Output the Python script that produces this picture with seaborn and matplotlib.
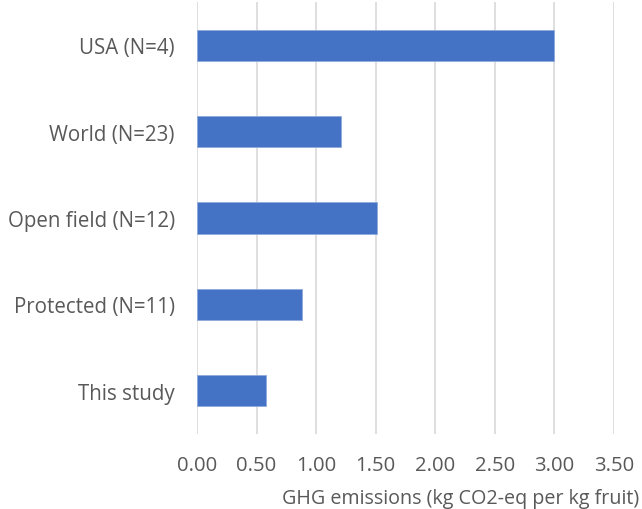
import matplotlib
matplotlib.use('Agg')
import matplotlib.pyplot as plt
import seaborn as sns
import pandas as pd

categories = ['USA (N=4)', 'World (N=23)', 'Open field (N=12)', 'Protected (N=11)', 'This study']
emissions = [3.00, 1.21, 1.51, 0.88, 0.58]
xticks = [0.0, 0.5, 1.0, 1.5, 2.0, 2.5, 3.0, 3.5]

sns.set_style('white')
plt.rcParams['font.family'] = ['Open Sans', 'DejaVu Sans']

df = pd.DataFrame({'category': categories, 'ghg': emissions})

fig = plt.figure(figsize=(6.42, 5.10), dpi=100)
ax = fig.add_axes([197 / 642, 1 - 435 / 510, (614 - 197) / 642, (435 - 3) / 510])

sns.barplot(data=df, x='ghg', y='category', color='#4472C4', saturation=1, width=0.36,
            edgecolor='#8faadc', linewidth=0.6, ax=ax, zorder=3)

ax.set_xlim(0, 3.5)
ax.set_ylim(4.5, -0.5)
ax.set_xticks(xticks)
ax.set_xticklabels([f'{t:.2f}' for t in xticks])
ax.xaxis.grid(True, color='#d9d9d9', linewidth=1.2, zorder=0)
ax.set_axisbelow(True)
for s in ax.spines.values():
    s.set_visible(False)

ax.tick_params(axis='y', length=0, labelsize=14.8, labelcolor='#595959', pad=16)
ax.tick_params(axis='x', length=0, labelsize=14.6, labelcolor='#595959', pad=15)
ax.set_ylabel('')
ax.set_xlabel('GHG emissions (kg CO2-eq per kg fruit)', fontsize=14.2, color='#595959', ha='right')
ax.xaxis.set_label_coords((639 - 197) / 417, -0.125)

fig.savefig('out.png', dpi=100)
